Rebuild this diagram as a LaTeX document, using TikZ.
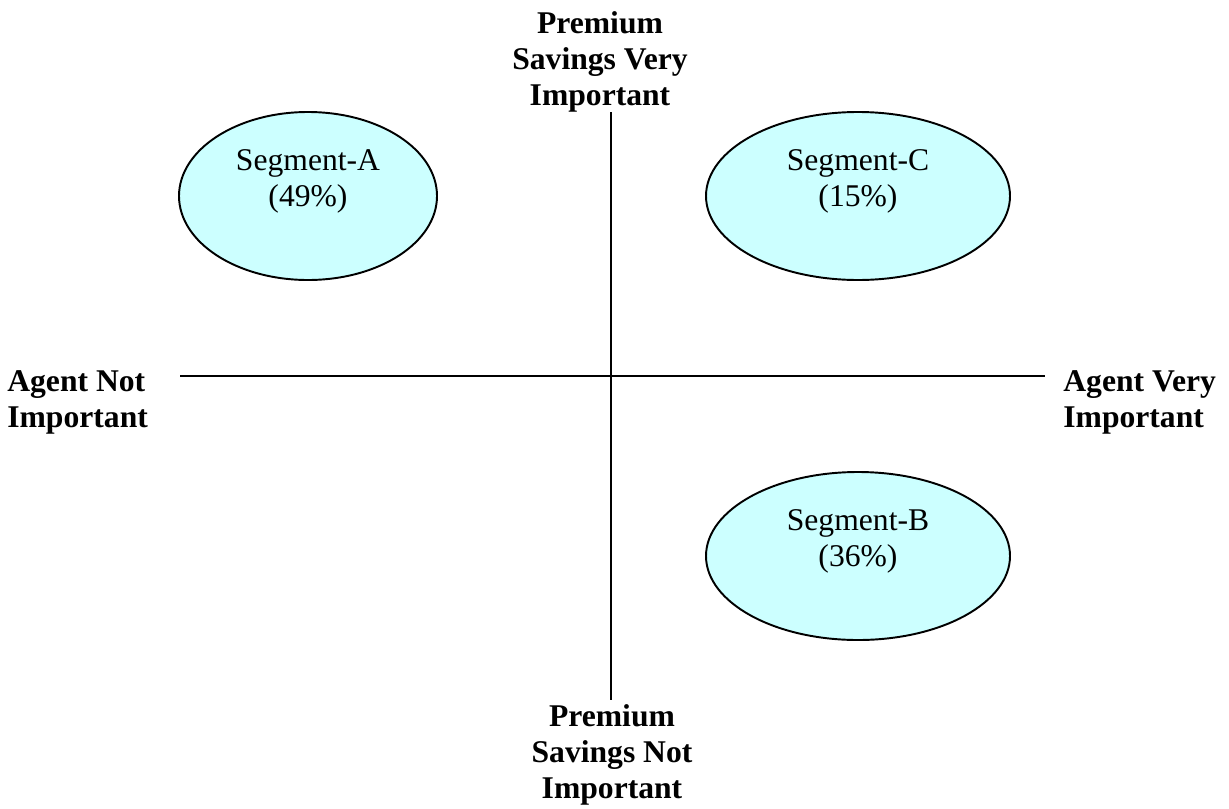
\documentclass[tikz,border=0pt]{standalone}
\usepackage{fontspec}
\setmainfont{Liberation Serif}
\usepackage{xcolor}
\usepackage{tikz}
\usetikzlibrary{shapes,positioning,calc}
\definecolor{segfill}{HTML}{CCFFFF}

\begin{document}
\begin{tikzpicture}[x=0.02cm, y=-0.02cm,
    axis/.style={line width=1.1pt},
    seg/.style={ellipse, draw, line width=1.1pt, fill=segfill, inner sep=0pt},
    segtext/.style={align=center, inner sep=0pt, font=\fontsize{18}{20.5}\selectfont},
    axislabel/.style={inner sep=0pt, font=\fontsize{18}{20.5}\selectfont\bfseries}]
    \useasboundingbox (0,0) rectangle (1229,808);
    % Axes
    \coordinate (top) at (611,112);
    \coordinate (bottom) at (611,700);
    \coordinate (left) at (180,376);
    \coordinate (right) at (1045,376);
    \draw[axis] (top) -- (bottom);
    \draw[axis] (left) -- (right);
    % Axis labels
    \node[axislabel, align=center] (premVery) at (600,62) {Premium\\Savings Very\\Important};
    \node[axislabel, align=center] (premNot) at (612,755) {Premium\\Savings Not\\Important};
    \node[axislabel, align=left, anchor=west] (agentNot) at (7,402) {Agent Not\\Important};
    \node[axislabel, align=left, anchor=west] (agentVery) at (1063,402) {Agent Very\\Important};
    % Segments
    \node[seg, minimum width=258*0.02cm, minimum height=168*0.02cm] (segA) at (308,196) {};
    \node[seg, minimum width=304*0.02cm, minimum height=168*0.02cm] (segC) at (858,196) {};
    \node[seg, minimum width=304*0.02cm, minimum height=168*0.02cm] (segB) at (858,556) {};
    \node[segtext] (txtA) at (308,181) {Segment-A\\(49\%)};
    \node[segtext] (txtC) at (858,181) {Segment-C\\(15\%)};
    \node[segtext] (txtB) at (858,541) {Segment-B\\(36\%)};
\end{tikzpicture}
\end{document}
